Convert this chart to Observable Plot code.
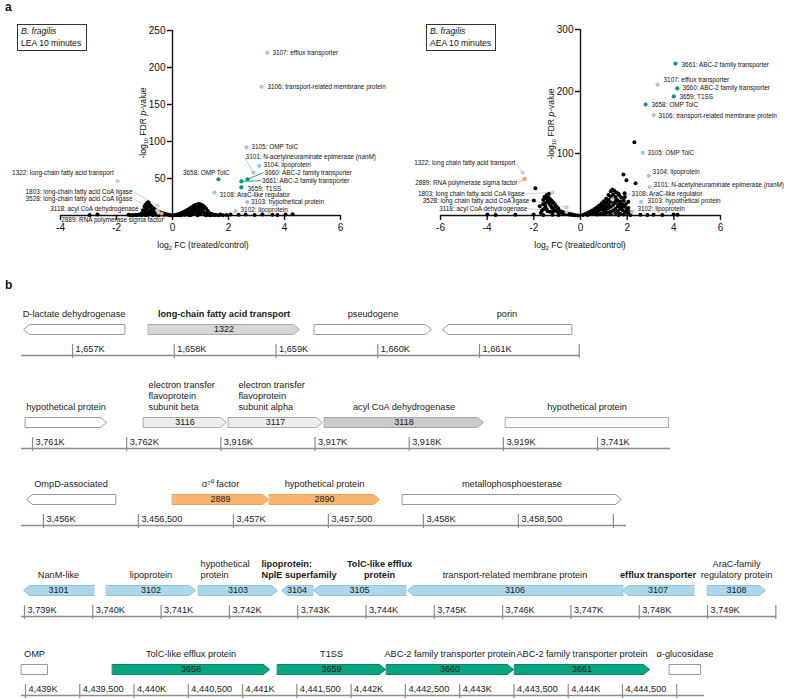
<!DOCTYPE html>
<html>
<head>
<meta charset="utf-8">
<script src="https://cdn.jsdelivr.net/npm/d3@7"></script>
<script src="https://cdn.jsdelivr.net/npm/@observablehq/plot@0.6"></script>
<style>
  html,body{margin:0;padding:0;background:#fff;}
  #fig{position:relative;width:800px;height:699px;overflow:hidden;font-family:"Liberation Sans",Arial,Helvetica,sans-serif;color:#111;}
  .slot{position:absolute;}
  .panel{position:absolute;font-weight:bold;font-size:12px;line-height:14px;}
  .box{position:absolute;border:1px solid #333;font-size:8.6px;line-height:11.5px;padding:1px 3px;box-sizing:border-box;white-space:nowrap;}
  .xt{position:absolute;font-size:8.6px;line-height:10px;transform:translateX(-50%);white-space:nowrap;}
  .yt{position:absolute;font-size:8.6px;line-height:10px;white-space:nowrap;transform:translate(-50%,-50%) rotate(-90deg);}
  .sub{font-size:65%;position:relative;top:2px;}
  svg.plot{overflow:visible;}
</style>
</head>
<body>
<div id="fig"></div>
<script>
// ================= DATA =================
// ---- Panel a, left: LEA 10 minutes ----
const leaXTicks = [-4, -2, 0, 2, 4, 6];
const leaYTicks = [50, 100, 150, 200, 250];
const leaBackground = [
  [-2.96,0.8],[-2.68,1.2],[-1.57,1],[-1.39,0.8],[-1.2,1.5],[1.55,0.6],[1.71,1.2],[1.93,0.8],[2.07,1.4],[2.36,0.9],
  [2.61,1.2],[2.93,0.7],[3.21,1.3],[3.57,1],[3.75,0.8],[4.04,1.3],[4.29,1.6],
  [-1.5,0.3],[-1.3,0.5],[-1.1,0.3],[-0.95,0.6],[1.35,0.4],[1.5,0.9],[1.65,0.3],[1.8,0.5],[1.2,0.5],[-0.7,0.3],[0.3,0.2],[0.6,0.3],[0.9,0.4],
  [-0.05,0.2],[-0.1,0.5],[-0.15,0.9],[-0.2,1.3],[-0.25,1.8],[-0.3,2.4],[-0.35,3.0],[-0.4,3.7],[-0.45,4.5],[-0.5,5.4],
  [-0.55,6.4],[-0.6,7.5],[-0.65,8.8],[-0.7,10.2],[-0.75,12],[-0.8,14],[-0.84,16],[-0.87,18],[-0.92,16.5],[-0.96,14.5],[-1.0,12],
  [-0.3,1],[-0.4,1.5],[-0.5,2.5],[-0.6,3.5],[-0.7,5],[-0.8,7],[-0.9,10],[-0.95,8],[-1.0,5],[-0.9,4],[-0.8,3],[-0.7,2],
  [-0.6,1],[-0.5,0.5],[-0.85,1],[-1.0,1.5],[-1.1,3],[-1.05,7],[-0.75,8.5],[-0.85,12],[-0.65,4],[-1.2,1],[-1.3,0.6],[-1.45,0.4],[-0.95,0.5],
  [0.05,0.3],[0.1,0.7],[0.15,1.1],[0.2,1.6],[0.25,2.2],[0.3,2.9],[0.35,3.7],[0.4,4.6],[0.45,5.6],[0.5,6.7],[0.55,7.9],[0.6,9.1],
  [0.65,10.3],[0.7,11.5],[0.75,12.7],[0.8,13.7],[0.85,14.6],[0.9,15.2],[0.95,15.5],[1.0,15],[1.05,14.2],[1.1,13],[1.15,11.5],[1.2,9],[1.25,6.5],[1.3,4],
  [0.2,0.5],[0.3,1],[0.4,1.5],[0.5,2.5],[0.6,3.5],[0.7,5],[0.8,7],[0.9,9],[1.0,11],[1.1,9],[0.9,12],[0.8,10],[0.7,8],[0.6,6],[0.5,4],[0.4,3],
  [0.45,1],[0.6,1.5],[0.75,2.5],[0.85,4],[1.0,6],[1.1,4.5],[1.2,3],[1.0,2],[0.9,1],[1.15,1.5],[1.3,1],[1.4,2],[1.45,0.6],[0.65,0.6],[0.95,6],[1.05,8.5]
];
const leaHitId    = ["3107","3106","3105","3101","3104","3660","3661","3659","3658","3108","3103","3102","1322","1803","3528","3118","2889"];
const leaHitX     = [3.39, 3.18, 2.64, 2.89, 3.10, 2.68, 2.46, 2.46, 1.64, 1.50, 2.67, 2.25, -1.96, -0.54, -0.54, -0.50, -0.39];
const leaHitY     = [220, 174, 92, 58, 67, 49, 46, 38, 49, 31, 18, 6, 46, 13.5, 7, 4, 2.7];
const leaHitGroup = ["nanM","nanM","nanM","nanM","nanM","tolc","tolc","tolc","tolc","nanM","nanM","nanM","fa","fa","fa","fa","sigma"];
const leaHitLabel = [
  "3107: efflux transporter","3106: transport-related membrane protein","3105: OMP TolC",
  "3101: N-acetylneuraminate epimerase (nanM)","3104: lipoprotein","3660: ABC-2 family transporter",
  "3661: ABC-2 family transporter","3659: T1SS","3658: OMP TolC","3108: AraC-like regulator",
  "3103: hypothetical protein","3102: lipoprotein","1322: long-chain fatty acid transport",
  "1803: long-chain fatty acid CoA ligase","3528: long-chain fatty acid CoA ligase",
  "3118: acyl CoA dehydrogenase","2889: RNA polymerase sigma factor"
];
const leaLabelX = [3.57, 3.39, 2.82, 2.61, 3.25, 3.29, 3.20, 2.68, 2.04, 1.68, 2.80, 2.43, -2.10, -1.43, -1.43, -1.21, -0.32];
const leaLabelY = [220, 174, 93, 78.5, 68, 58, 47, 35.5, 57, 28, 18, 8, 58, 32, 22, 9.5, -6];
const leaRightAligned = ["3658","1322","1803","3528","3118","2889"];
const leaLinked = ["3101","3660","3661","1803","3528","3118","2889"];

// ---- Panel a, right: AEA 10 minutes ----
const aeaXTicks = [-6, -4, -2, 0, 2, 4, 6];
const aeaYTicks = [100, 200, 300];
const aeaBackground = [
  [-3.99,1.5],[-3.64,1],[-2.79,1.2],[-2.01,1.5],[-1.59,1],[-1.2,1.3],[-0.94,0.8],[1.63,1],[1.84,1.5],[2.14,0.8],[2.57,1.2],
  [2.87,0.9],[3.13,1.3],[3.51,1],[3.99,1.6],[4.16,1.1],
  [2.31,118],[1.84,66],[1.97,57],[2.36,52],[1.63,35],[1.89,36],[1.9,30],[2.05,22],[-1.93,44],[-2.0,24],[-1.59,10],[-1.75,15],
  [-1.45,33],[-1.4,30],[-1.35,28],[-1.3,26],[-1.25,24],[-1.2,22],[-1.15,20],[-1.1,18],[-1.05,15],[-1.0,13],[-0.95,11],
  [-1.45,27],[-1.4,24],[-1.35,20],[-1.3,17],[-1.25,14],[-1.2,12],[-1.15,10],[-1.5,20],[-1.5,14],[-1.45,10],[-1.4,7],
  [-1.3,6],[-1.2,5],[-1.1,8],[-1.0,6],[-0.9,5],[-0.8,4],[-0.7,3],[-0.6,2.4],[-0.5,1.8],[-0.4,1.2],[-0.3,0.8],[-0.2,0.4],[-0.1,0.2],
  [-0.85,7],[-0.75,5.5],[-0.65,4.3],[-0.55,3.2],[-0.45,2.5],[-0.35,1.6],[-1.6,25],[-1.55,30],[-1.35,35],[-1.6,18],[-1.65,8],[-1.7,4],
  [0.1,1],[0.2,2.5],[0.3,4],[0.4,6],[0.5,8],[0.6,10.5],[0.7,13],[0.8,16],[0.9,19.5],[1.0,23],[1.1,27],[1.2,33],[1.3,39],[1.37,42],
  [1.45,40],[1.55,37],[1.65,33],[1.75,29],[1.85,24],[1.95,19],[2.05,12],[2.12,6],
  [0.3,1],[0.4,2],[0.5,3],[0.6,4],[0.7,6],[0.8,8],[0.9,10],[1.0,12],[1.1,15],[1.2,18],[1.3,22],[1.4,26],[1.5,30],[1.4,34],[1.3,30],
  [1.2,25],[1.1,21],[1.0,17],[0.9,14],[0.8,11],[0.7,9],[0.6,7],[0.5,5],[1.0,8],[1.1,10],[1.2,12],[1.3,14],[1.4,17],[1.5,20],[1.6,24],
  [1.7,22],[1.8,18],[1.9,14],[1.6,15],[1.5,11],[1.4,8],[1.3,6],[1.2,5],[1.1,4],[0.9,3],[0.8,2],[1.6,7],[1.7,11],[1.8,9],[1.9,6],
  [2.0,4],[1.7,3],[1.5,4],[1.3,2],[1.0,2],[0.7,1.5],[1.55,25],[1.45,22],[1.65,18],[2.0,10],[1.75,14]
];
const aeaHitId    = ["3661","3107","3660","3659","3658","3106","3105","3104","3101","3108","3103","3102","1322","2889","1803","3528","3118"];
const aeaHitX     = [4.07, 3.30, 4.15, 4.00, 2.79, 3.14, 2.67, 2.93, 2.96, 1.37, 2.60, 2.20, -2.48, -2.40, -1.20, -0.60, -0.60];
const aeaHitY     = [245, 211, 205, 192, 179, 162, 101, 64, 46, 26, 22, 6, 69, 59, 37, 13, 6];
const aeaHitGroup = ["tolc","nanM","tolc","tolc","tolc","nanM","nanM","nanM","nanM","nanM","nanM","nanM","fa","sigma","fa","fa","fa"];
const aeaHitLabel = [
  "3661: ABC-2 family transporter","3107: efflux transporter","3660: ABC-2 family transporter","3659: T1SS",
  "3658: OMP TolC","3106: transport-related membrane protein","3105: OMP TolC","3104: lipoprotein",
  "3101: N-acetylneuraminate epimerase (nanM)","3108: AraC-like regulator","3103: hypothetical protein",
  "3102: lipoprotein","1322: long chain fatty acid transport","2889: RNA polymerase sigma factor",
  "1803: long chain fatty acid CoA ligase","3528: long chain fatty acid CoA ligase","3118: acyl CoA dehydrogenase"
];
const aeaLabelX = [4.33, 3.56, 4.37, 4.24, 3.04, 3.34, 2.87, 3.09, 3.13, 2.19, 2.87, 2.44, -2.79, -2.70, -2.40, -2.19, -2.27];
const aeaLabelY = [243, 218, 205, 192, 179, 161, 101, 71, 50, 35, 23, 10, 84, 52, 35, 24, 11];
const aeaRightAligned = ["1322","2889","1803","3528","3118"];
const aeaLinked = ["3108","3102","1322","2889","1803","3528","3118"];

// ---- Panel b: gene neighbourhoods ----
const t1Start  = [1656518, 1657747, 1659378, 1660636];
const t1End    = [1657511, 1659231, 1660528, 1661904];
const t1Strand = ["-", "+", "+", "-"];
const t1Id     = ["", "1322", "", ""];
const t1Name   = ["D-lactate dehydrogenase", "long-chain fatty acid transport", "pseudogene", "porin"];
const t1Class  = ["none", "fa", "none", "none"];
const t1Ticks  = [1657000, 1658000, 1659000, 1660000, 1661000, 1661980];
const t1TickLabels = ["1,657K", "1,658K", "1,659K", "1,660K", "1,661K", ""];

const t2Start  = [3913925, 3915179, 3916081, 3917101, 3919023];
const t2End    = [3914786, 3916060, 3917079, 3918789, 3920753];
const t2Strand = ["+", "+", "+", "+", "."];
const t2Id     = ["", "3116", "3117", "3118", ""];
const t2Name   = ["hypothetical protein", "electron transfer\nflavoprotein\nsubunit beta",
                  "electron transfer\nflavoprotein\nsubunit alpha", "acyl CoA dehydrogenase", "hypothetical protein"];
const t2Class  = ["none", "etf", "etf", "acyl", "faint"];
const t2Ticks  = [3914000, 3915000, 3916000, 3917000, 3918000, 3919000, 3920000];
const t2TickLabels = ["3,761K", "3,762K", "3,916K", "3,917K", "3,918K", "3,919K", "3,741K"];

const t3Start  = [3455911, 3456679, 3457190, 3457890];
const t3End    = [3456379, 3457185, 3457769, 3459042];
const t3Strand = ["-", "+", "+", "+"];
const t3Id     = ["", "2889", "2890", ""];
const t3Name   = ["OmpD-associated", "σ\u2077\u2070 factor", "hypothetical protein", "metallophosphoesterase"];
const t3Class  = ["none", "sigma", "sigma", "none"];
const t3Ticks  = [3456000, 3456500, 3457000, 3457500, 3458000, 3458500, 3459000];
const t3TickLabels = ["3,456K", "3,456,500", "3,457K", "3,457,500", "3,458K", "3,458,500", ""];

const t4Start  = [3738986, 3740201, 3741548, 3742763, 3743232, 3744608, 3747755, 3749000];
const t4End    = [3740011, 3741504, 3742704, 3743217, 3744578, 3747755, 3748795, 3749849];
const t4Strand = ["-", "+", "+", "-", "-", "-", "-", "+"];
const t4Id     = ["3101", "3102", "3103", "3104", "3105", "3106", "3107", "3108"];
const t4Name   = ["NanM-like", "lipoprotein", "hypothetical\nprotein", "lipoprotein:\nNplE superfamily",
                  "TolC-like efflux\nprotein", "transport-related membrane protein", "efflux transporter",
                  "AraC-family\nregulatory protein"];
const t4Class  = ["nanM", "nanM", "nanM", "nanM", "nanM", "nanM", "nanM", "nanM"];
const t4Ticks  = [3739000, 3740000, 3741000, 3742000, 3743000, 3744000, 3745000, 3746000, 3747000, 3748000, 3749000, 3750000];
const t4TickLabels = ["3,739K", "3,740K", "3,741K", "3,742K", "3,743K", "3,744K", "3,745K", "3,746K", "3,747K", "3,748K", "3,749K", ""];

const t5Start  = [4438963, 4439802, 4441322, 4442326, 4443506, 4444933];
const t5End    = [4439203, 4441248, 4442317, 4443496, 4444749, 4445219];
const t5Strand = [".", "+", "+", "+", "+", "."];
const t5Id     = ["", "3658", "3659", "3660", "3661", ""];
const t5Name   = ["OMP", "TolC-like efflux protein", "T1SS", "ABC-2 family transporter protein",
                  "ABC-2 family transporter protein", "α-glucosidase"];
const t5Class  = ["none", "tolc", "tolc", "tolc", "tolc", "none"];
const t5Ticks  = [4439000, 4439500, 4440000, 4440500, 4441000, 4441500, 4442000, 4442500, 4443000, 4443500, 4444000, 4444500, 4445000];
const t5TickLabels = ["4,439K", "4,439,500", "4,440K", "4,440,500", "4,441K", "4,441,500", "4,442K", "4,442,500",
                      "4,443K", "4,443,500", "4,444K", "4,444,500", ""];

// ================= STYLE =================
const FONT = '"Liberation Sans", Arial, Helvetica, sans-serif';
const W = 800;
const DOT = {nanM: "#a2c6ec", tolc: "#079a7c", fa: "#cbcbcb", sigma: "#f5a35e"};
const GENE_FILL   = {none: "#ffffff", fa: "#d6d6d6", etf: "#ececec", acyl: "#cacaca", faint: "#f8f8f8",
                     sigma: "#f9b46f", nanM: "#acd7ea", tolc: "#05a582"};
const GENE_STROKE = {none: "#9a9a9a", fa: "#aaaaaa", etf: "#aaaaaa", acyl: "#a5a5a5", faint: "#aaaaaa",
                     sigma: "#f2a255", nanM: "#8fc3de", tolc: "#00866a"};
const BOLD_IDS = ["1322", "3104", "3105", "3107"];
const LABEL_LAYOUT = {
  "3116": {anchor: "start", dx: 5}, "3117": {anchor: "start", dx: 10},
  "3103": {anchor: "start", dx: 2}, "3104": {anchor: "start", dx: -20},
  "3105": {anchor: "middle", dx: 20}
};
const TRACK_H = 80, ARROW_Y = 50, ARROW_H = 5, LABEL_Y = 37.5, AXIS_Y = 76, HEAD_PX = 6;

// ================= BUILD =================
const fig = document.getElementById("fig");
function slot(left, top, width, height, node) {
  const d = document.createElement("div");
  d.className = "slot";
  Object.assign(d.style, {left: left + "px", top: top + "px", width: width + "px", height: height + "px"});
  d.appendChild(node);
  fig.appendChild(d);
  return d;
}
function html(h) { fig.insertAdjacentHTML("beforeend", h); }

function volcano(cfg) {
  const {bg, ids, xs, ys, groups, labels, lxs, lys, rightAligned, linked, xDomain, xTicks, yDomain, yTicks,
         width, height, mL, mR, mT, mB} = cfg;
  const pts = bg.map(([x, y]) => ({x, y}));
  const hits = ids.map((id, i) => ({
    id, x: xs[i], y: ys[i], color: DOT[groups[i]], label: labels[i], lx: lxs[i], ly: lys[i],
    end: rightAligned.includes(id)
  }));
  const links = hits.filter(d => linked.includes(d.id));
  const yAxisShift = (0 - xDomain[0]) / (xDomain[1] - xDomain[0]) * (width - mL - mR);
  const svg = Plot.plot({
    width, height, marginLeft: mL, marginRight: mR, marginTop: mT, marginBottom: mB,
    x: {domain: xDomain}, y: {domain: yDomain}, color: {type: "identity"},
    style: {fontFamily: FONT, fontSize: "10px", color: "#111", background: "transparent", overflow: "visible"},
    marks: [
      Plot.ruleY([0], {stroke: "#111", strokeWidth: 1.4}),
      Plot.ruleX([0], {stroke: "#111", strokeWidth: 1.4}),
      Plot.axisX({ticks: xTicks, tickFormat: d => String(d), tickSize: 5, tickPadding: 3, label: null, strokeWidth: 1.4}),
      Plot.axisY({ticks: yTicks, tickFormat: d => String(d), tickSize: 5, tickPadding: 2, label: null,
                  anchor: "left", dx: yAxisShift, strokeWidth: 1.4}),
      Plot.link(links, {x1: d => d.lx + (d.end ? 0.04 : -0.04), y1: "ly", x2: "x", y2: "y",
                        stroke: "color", strokeWidth: 0.9}),
      Plot.dot(pts, {x: "x", y: "y", r: 2, fill: "#000"}),
      Plot.dot(hits, {x: "x", y: "y", r: 2.1, fill: "color"}),
      Plot.text(hits.filter(d => !d.end), {x: "lx", y: "ly", text: "label", textAnchor: "start", fontSize: 6.4, fill: "#111"}),
      Plot.text(hits.filter(d => d.end), {x: "lx", y: "ly", text: "label", textAnchor: "end", fontSize: 6.4, fill: "#111"})
    ]
  });
  svg.querySelectorAll("text").forEach(t => {
    if (t.textContent.endsWith("(nanM)")) {
      const pre = t.textContent.slice(0, -6);
      t.textContent = "";
      const a = document.createElementNS("http://www.w3.org/2000/svg", "tspan"); a.textContent = pre + "(";
      const b = document.createElementNS("http://www.w3.org/2000/svg", "tspan"); b.textContent = "nanM"; b.setAttribute("font-style", "italic");
      const c = document.createElementNS("http://www.w3.org/2000/svg", "tspan"); c.textContent = ")";
      t.append(a, b, c);
    }
  });
  return svg;
}

function geneTrack(cfg) {
  const {start, end, strand, id, name, cls, domain, axisStart, axisEnd, tickVals, tickLabels} = cfg;
  const bpPerPx = (domain[1] - domain[0]) / W;
  const head = HEAD_PX * bpPerPx;
  const genes = start.map((s, i) => {
    const lo = Math.min(s, end[i]), hi = Math.max(s, end[i]);
    const lay = LABEL_LAYOUT[id[i]] || {anchor: "middle", dx: 0};
    return {
      i, lo, hi, mid: (lo + hi) / 2, strand: strand[i], id: id[i], name: name[i],
      fill: GENE_FILL[cls[i]], stroke: GENE_STROKE[cls[i]], bold: BOLD_IDS.includes(id[i]),
      anchor: lay.anchor, lx: (lay.anchor === "start" ? lo : (lo + hi) / 2) + lay.dx * bpPerPx
    };
  });
  const t = ARROW_Y - ARROW_H, m = ARROW_Y, b = ARROW_Y + ARROW_H;
  const verts = genes.flatMap(g => {
    let p;
    if (g.strand === "+") p = [[g.lo, t], [g.hi - head, t], [g.hi, m], [g.hi - head, b], [g.lo, b]];
    else if (g.strand === "-") p = [[g.hi, t], [g.lo + head, t], [g.lo, m], [g.lo + head, b], [g.hi, b]];
    else p = [[g.lo, t], [g.hi, t], [g.hi, b], [g.lo, b]];
    return p.map(([x, y]) => ({x, y, gene: g.i, fill: g.fill, stroke: g.stroke}));
  });
  const ticks = tickVals.map((v, i) => ({v, label: tickLabels[i]}));
  const labelMarks = [];
  for (const a of ["start", "middle"]) for (const bold of [false, true]) {
    labelMarks.push(Plot.text(genes.filter(g => g.anchor === a && g.bold === bold), {
      x: "lx", y: LABEL_Y, text: "name", textAnchor: a, lineAnchor: "bottom", lineHeight: 1.2,
      fontSize: 9.2, fontWeight: bold ? "bold" : "normal", fill: "#1a1a1a"
    }));
  }
  return Plot.plot({
    width: W, height: TRACK_H, marginTop: 0, marginBottom: 0, marginLeft: 0, marginRight: 0,
    x: {domain, axis: null}, y: {type: "identity", axis: null}, color: {type: "identity"},
    style: {fontFamily: FONT, background: "transparent", overflow: "visible"},
    marks: [
      Plot.ruleY([AXIS_Y], {x1: axisStart, x2: axisEnd, stroke: "#8d8d8d", strokeWidth: 1.6}),
      Plot.ruleX(ticks, {x: "v", y1: AXIS_Y - 11, y2: AXIS_Y + 3, stroke: "#8d8d8d", strokeWidth: 1.2}),
      Plot.text(ticks, {x: "v", y: AXIS_Y - 6, text: "label", textAnchor: "start", dx: 3, fontSize: 9.2, fill: "#222"}),
      Plot.line(verts, {x: "x", y: "y", z: "gene", fill: "fill", stroke: "stroke", curve: "linear-closed", strokeWidth: 1}),
      Plot.text(genes.filter(g => g.id), {x: "mid", y: ARROW_Y, text: "id", fontSize: 9, fill: "#1a1a1a"}),
      ...labelMarks
    ]
  });
}

// ---- panel a ----
slot(0, 0, 400, 260, volcano({
  bg: leaBackground, ids: leaHitId, xs: leaHitX, ys: leaHitY, groups: leaHitGroup, labels: leaHitLabel,
  lxs: leaLabelX, lys: leaLabelY, rightAligned: leaRightAligned, linked: leaLinked,
  xDomain: [-4, 6], xTicks: leaXTicks, yDomain: [0, 250], yTicks: leaYTicks,
  width: 400, height: 260, mL: 60, mR: 60, mT: 30, mB: 45
}));
slot(400, 0, 400, 260, volcano({
  bg: aeaBackground, ids: aeaHitId, xs: aeaHitX, ys: aeaHitY, groups: aeaHitGroup, labels: aeaHitLabel,
  lxs: aeaLabelX, lys: aeaLabelY, rightAligned: aeaRightAligned, linked: aeaLinked,
  xDomain: [-6, 6], xTicks: aeaXTicks, yDomain: [0, 300], yTicks: aeaYTicks,
  width: 400, height: 260, mL: 40, mR: 80, mT: 29, mB: 45
}));

html('<div class="panel" style="left:5px;top:0px">a</div>');
html('<div class="panel" style="left:5px;top:278px">b</div>');
html('<div class="box" style="left:17px;top:24px;width:70px;height:27px"><i>B. fragilis</i><br>LEA 10 minutes</div>');
html('<div class="box" style="left:426px;top:24px;width:70px;height:27px"><i>B. fragilis</i><br>AEA 10 minutes</div>');
html('<div class="xt" style="left:203px;top:240px">log<span class="sub">2</span> FC (treated/control)</div>');
html('<div class="xt" style="left:580px;top:240px">log<span class="sub">2</span> FC (treated/control)</div>');
html('<div class="yt" style="left:143px;top:123px">-log<span class="sub">10</span> FDR <i>p</i>-value</div>');
html('<div class="yt" style="left:551px;top:124px">-log<span class="sub">10</span> FDR <i>p</i>-value</div>');

// ---- panel b ----
slot(0, 279, W, TRACK_H, geneTrack({start: t1Start, end: t1End, strand: t1Strand, id: t1Id, name: t1Name, cls: t1Class,
  domain: [1656292, 1664155], axisStart: 1656499, axisEnd: 1661983, tickVals: t1Ticks, tickLabels: t1TickLabels}));
slot(0, 372, W, TRACK_H, geneTrack({start: t2Start, end: t2End, strand: t2Strand, id: t2Id, name: t2Name, cls: t2Class,
  domain: [3913660, 3922155], axisStart: 3913883, axisEnd: 3920775, tickVals: t2Ticks, tickLabels: t2TickLabels}));
slot(0, 449, W, TRACK_H, geneTrack({start: t3Start, end: t3End, strand: t3Strand, id: t3Id, name: t3Name, cls: t3Class,
  domain: [3455774, 3459985], axisStart: 3455885, axisEnd: 3459069, tickVals: t3Ticks, tickLabels: t3TickLabels}));
slot(0, 540, W, TRACK_H, geneTrack({start: t4Start, end: t4End, strand: t4Strand, id: t4Id, name: t4Name, cls: t4Class,
  domain: [3738649, 3750361], axisStart: 3738956, axisEnd: 3750010, tickVals: t4Ticks, tickLabels: t4TickLabels}));
slot(0, 619, W, TRACK_H, geneTrack({start: t5Start, end: t5End, strand: t5Strand, id: t5Id, name: t5Name, cls: t5Class,
  domain: [4438770, 4446140], axisStart: 4438963, axisEnd: 4445256, tickVals: t5Ticks, tickLabels: t5TickLabels}));
</script>
</body>
</html>
